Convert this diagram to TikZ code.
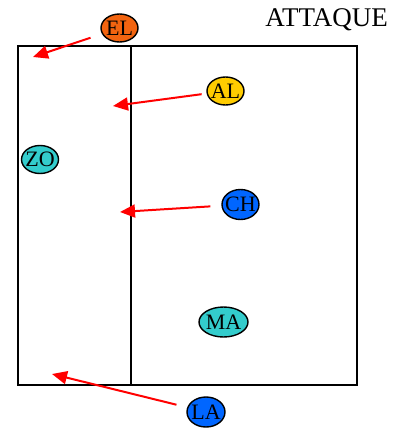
\documentclass[tikz,border=0pt]{standalone}
\usepackage{fontspec}
\setmainfont{Liberation Serif}
\usetikzlibrary{arrows.meta, shapes.geometric}

\definecolor{orangeEL}{HTML}{F26410}
\definecolor{jauneAL}{HTML}{FFCC00}
\definecolor{turquoise}{HTML}{33CCCC}
\definecolor{bleuJ}{HTML}{0066FF}

\begin{document}
\begin{tikzpicture}[x=1pt, y=-1pt,
    joueur/.style={ellipse, draw=black, line width=1.4pt,
        inner xsep=-2.5pt, inner ysep=0pt,
        minimum width=37pt, minimum height=28pt,
        font=\fontsize{22}{22}\selectfont},
    passe/.style={draw=red, line width=2pt,
        -{Triangle[length=15pt, width=13pt]}}]
    \useasboundingbox (0,0) rectangle (409,428);

    % terrain
    \draw[line width=2pt] (18,46) rectangle (357,385);
    \draw[line width=2pt] (131,46) -- (131,385);
    \node[anchor=base east, inner sep=0pt, font=\fontsize{27}{27}\selectfont] (titre) at (388,27) {ATTAQUE};

    % joueurs
    \node[joueur, fill=orangeEL] (el) at (119.5,28) {EL};
    \node[joueur, fill=jauneAL] (al) at (225.5,91) {AL};
    \node[joueur, fill=turquoise] (zo) at (40,159.5) {ZO};
    \node[joueur, fill=bleuJ, minimum height=30pt] (ch) at (240.5,204.5) {CH};
    \node[joueur, fill=turquoise, minimum width=49pt, minimum height=30pt] (ma) at (223.5,322) {MA};
    \node[joueur, fill=bleuJ, minimum width=38pt, minimum height=30pt] (la) at (206,412) {LA};

    % arrivees
    \coordinate (pEL) at (33,57);
    \coordinate (pAL) at (113,106);
    \coordinate (pCH) at (120,212);
    \coordinate (pLA) at (52,374);

    \draw[passe, shorten <=12pt] (el) -- (pEL);
    \draw[passe, shorten <=5pt] (al) -- (pAL);
    \draw[passe, shorten <=11pt] (ch) -- (pCH);
    \draw[passe, shorten <=11pt] (la) -- (pLA);
\end{tikzpicture}
\end{document}
